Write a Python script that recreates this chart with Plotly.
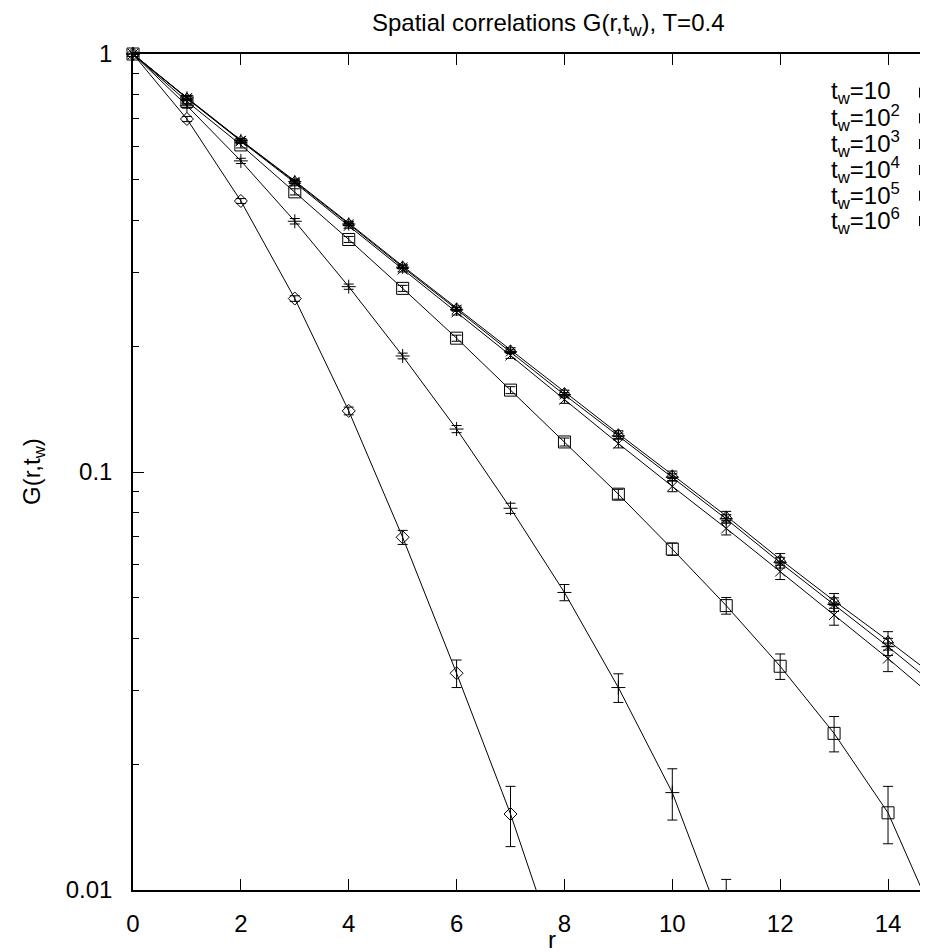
import plotly.graph_objects as go

# ---------------- data ----------------
r_vals = list(range(16))
series_names = ["t<sub>w</sub>=10", "t<sub>w</sub>=10<sup>2</sup>", "t<sub>w</sub>=10<sup>3</sup>",
                "t<sub>w</sub>=10<sup>4</sup>", "t<sub>w</sub>=10<sup>5</sup>", "t<sub>w</sub>=10<sup>6</sup>"]

g_tw1 = [1, 0.699, 0.445, 0.260, 0.140, 0.0698, 0.033, 0.0152, 0.0063]
e_tw1 = [0, 0.010, 0.006, 0.004, 0.003, 0.0027, 0.0025, 0.0025, 0.0025]

g_tw2 = [1, 0.752, 0.555, 0.398, 0.2776, 0.1895, 0.1267, 0.0819, 0.0515, 0.0305, 0.0171, 0.0078]
e_tw2 = [0, 0.010, 0.008, 0.006, 0.004, 0.003, 0.0025, 0.0023, 0.0023, 0.0024, 0.0024, 0.0028]

g_tw3 = [1, 0.770, 0.606, 0.468, 0.360, 0.275, 0.209, 0.157, 0.118, 0.0885, 0.0654, 0.0479, 0.0343,
         0.0237, 0.0153, 0.0078]
e_tw3 = [0, 0.012, 0.010, 0.008, 0.006, 0.0046, 0.0035, 0.003, 0.0026, 0.0024, 0.0022, 0.0022, 0.0024,
         0.0023, 0.0024, 0.0025]

g_tw4 = [1, 0.783, 0.619, 0.492, 0.388, 0.305, 0.241, 0.190, 0.149, 0.117, 0.0924, 0.0733, 0.0578,
         0.0455, 0.0358, 0.0278]
e_tw4 = [0, 0.010, 0.008, 0.006, 0.005, 0.004, 0.0035, 0.003, 0.003, 0.0028, 0.0027, 0.0026, 0.0025,
         0.0025, 0.0025, 0.0025]

g_tw5 = [1, 0.786, 0.622, 0.497, 0.394, 0.311, 0.247, 0.196, 0.155, 0.1235, 0.0985, 0.0785, 0.0618,
         0.0492, 0.0395, 0.0315]
e_tw5 = [0, 0.008, 0.006, 0.005, 0.004, 0.003, 0.0025, 0.0022, 0.002, 0.002, 0.002, 0.002, 0.002,
         0.002, 0.002, 0.002]

g_tw6 = [1, 0.785, 0.621, 0.495, 0.392, 0.309, 0.245, 0.194, 0.153, 0.122, 0.0972, 0.0772, 0.0607,
         0.0482, 0.0382, 0.0300]
e_tw6 = [0, 0.008, 0.006, 0.005, 0.004, 0.003, 0.0025, 0.002, 0.002, 0.0018, 0.0018, 0.0018, 0.0018,
         0.0018, 0.0018, 0.0018]

y_tickvals = [0.01, 0.1, 1]
y_ticktext = ["0.01", "0.1", "1"]
x_tickvals = [0, 2, 4, 6, 8, 10, 12, 14]

# ---------------- styling ----------------
FONT = "Liberation Sans, Arial, Helvetica, sans-serif"
FS = 24
FS_LEG = 24
OFF = 8                      # page body margin: figure starts 8px in from the window corner
PAGE_W, PAGE_H = 928, 952
W, H = PAGE_W - OFF, PAGE_H - OFF
# plot-area edges in page pixels
PL, PT, PB = 133, 54, 890
L, T, B = PL - OFF, PT - OFF, PB - OFF

def px_x(px):           # page px -> paper x
    return (px - OFF - L) / (W - L)

def px_y(py):           # page px -> paper y
    return (B - (py - OFF)) / (B - T)

symbols = ["diamond-open", "cross-thin-open", "square-open", "x-thin-open", "triangle-up-open", "asterisk-open"]
sizes = [10, 10, 12, 10, 10, 11]
all_g = [g_tw1, g_tw2, g_tw3, g_tw4, g_tw5, g_tw6]
all_e = [e_tw1, e_tw2, e_tw3, e_tw4, e_tw5, e_tw6]

fig = go.Figure()
for name, g, e, sym, sz in zip(series_names, all_g, all_e, symbols, sizes):
    xs = r_vals[:len(g)]
    fig.add_trace(go.Scatter(
        x=xs, y=g, mode="lines", name=name, showlegend=False,
        line=dict(color="black", width=1),
        error_y=dict(type="data", array=e, visible=True, color="black", thickness=1, width=5),
        cliponaxis=True,
    ))
    fig.add_trace(go.Scatter(
        x=xs, y=g, mode="markers", name=name, showlegend=False,
        marker=dict(symbol=sym, size=sz, color="black", line=dict(color="black", width=1)),
        cliponaxis=False,
    ))

minor_vals = [k * 0.01 for k in range(2, 10)] + [k * 0.1 for k in range(2, 10)]

fig.update_layout(
    width=W, height=H,
    margin=dict(l=L, r=0, t=T, b=H - B, pad=0),
    paper_bgcolor="white", plot_bgcolor="white",
    font=dict(family=FONT, size=FS, color="black"),
    showlegend=False,
    xaxis=dict(
        range=[0, (W - L) / 53.93], showgrid=False, zeroline=False,
        showline=True, linecolor="black", linewidth=1.5, mirror="ticks",
        ticks="inside", ticklen=11, tickwidth=1, tickcolor="black",
        tickvals=x_tickvals, ticklabelstandoff=11,
        tickfont=dict(family=FONT, size=FS),
    ),
    yaxis=dict(
        type="log", range=[-2, 0], showgrid=False, zeroline=False,
        showline=True, linecolor="black", linewidth=1.5, mirror=False,
        ticks="inside", ticklen=11, tickwidth=1, tickcolor="black",
        tickvals=y_tickvals, ticktext=y_ticktext, ticklabelstandoff=14,
        tickfont=dict(family=FONT, size=FS),
        minor=dict(tickvals=minor_vals, ticks="inside", ticklen=6, tickwidth=1,
                   tickcolor="black", showgrid=False),
    ),
)

annotations = [
    dict(text="Spatial correlations G(r,t<sub>w</sub>), T=0.4", x=px_x(548), y=px_y(24),
         xref="paper", yref="paper", xanchor="center", yanchor="middle", showarrow=False,
         font=dict(family=FONT, size=FS)),
    dict(text="r", x=px_x(552), y=px_y(940), xref="paper", yref="paper",
         xanchor="center", yanchor="middle", showarrow=False, font=dict(family=FONT, size=FS)),
    dict(text="G(r,t<sub>w</sub>)", x=px_x(33), y=px_y(472), xref="paper", yref="paper",
         xanchor="center", yanchor="middle", showarrow=False, textangle=-90,
         font=dict(family=FONT, size=FS)),
]
legend_rows = [92.7, 118.3, 144, 170, 195.7, 221]
shapes = []
for name, py in zip(series_names, legend_rows):
    annotations.append(dict(text=name, x=px_x(829), y=px_y(py), xref="paper", yref="paper",
                            xanchor="left", yanchor="middle", showarrow=False,
                            font=dict(family=FONT, size=FS_LEG)))
    shapes.append(dict(type="line", xref="paper", yref="paper", x0=px_x(919.5), x1=px_x(919.5),
                       y0=px_y(py - 5), y1=px_y(py + 5), line=dict(color="black", width=1)))
    shapes.append(dict(type="line", xref="paper", yref="paper", x0=px_x(919.5), x1=px_x(940),
                       y0=px_y(py), y1=px_y(py), line=dict(color="black", width=1)))

fig.update_layout(annotations=annotations, shapes=shapes)
fig.write_html("out.html")
